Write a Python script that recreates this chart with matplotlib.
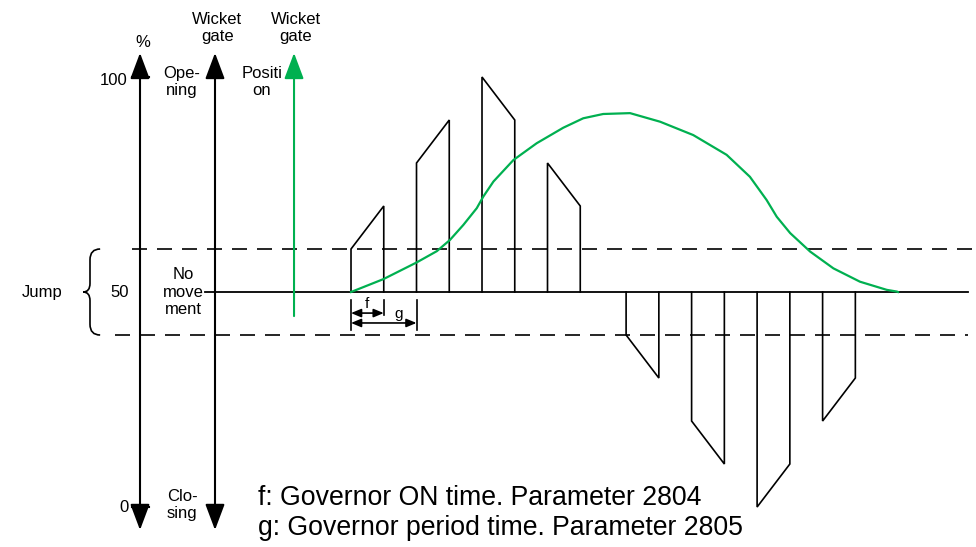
import matplotlib
matplotlib.use('Agg')
import matplotlib.pyplot as plt
from matplotlib.path import Path
from matplotlib.patches import PathPatch

plt.rcParams['font.family'] = ['Liberation Sans', 'DejaVu Sans']

# governor pulses (time in units of f, period g = 2), level at start / end of the pulse in %
pulse_start = [0, 2, 4, 6, 8.4, 10.4, 12.4, 14.4]
pulse_from = [60, 80, 100, 80, 40, 20, 0, 20]
pulse_to = [70, 90, 90, 70, 30, 10, 10, 30]
pulse_on = 1.0

# wicket gate position (green curve)
pos_t = [0, 0.99, 2.01, 2.62, 3.02, 3.43, 3.84, 4.04, 4.35, 4.96, 5.67, 6.48, 7.09, 7.7,
         8.52, 9.44, 10.45, 11.47, 12.18, 12.69, 13.0, 13.41, 14.02, 14.73, 15.54, 16.36,
         16.67, 16.7]
pos_val = [50, 53.0, 56.9, 59.5, 62.1, 65.6, 69.5, 72.2, 75.7, 80.7, 84.6, 88.2, 90.4, 91.4,
           91.6, 89.6, 86.5, 81.9, 76.8, 71.4, 67.5, 63.7, 59.4, 55.5, 52.4, 50.5,
           50.1, 50]

neutral = 50
jump_low, jump_high = 40, 60

green = '#00B050'

fig = plt.figure(figsize=(9.76, 5.47), dpi=100)
ax = fig.add_axes([0, 0, 1, 1])
ax.set_xlim(-10.718, 19.084)
ax.set_ylim(-9.30, 117.91)
ax.axis('off')

# dead band and neutral line
ax.plot([-6.69, 19.1], [jump_high, jump_high], color='black', lw=1.2, dashes=(9, 6))
ax.plot([-7.2, 18.84], [jump_low, jump_low], color='black', lw=1.2, dashes=(9, 6))
ax.plot([-4.46, 18.84], [neutral, neutral], color='black', lw=1.3)

# pulses
for s, a, b in zip(pulse_start, pulse_from, pulse_to):
    ax.plot([s, s, s + pulse_on, s + pulse_on], [neutral, a, b, neutral],
            color='black', lw=1.2, solid_joinstyle='miter')

# gate position
ax.plot(pos_t, pos_val, color=green, lw=1.6, solid_joinstyle='round')

# axes arrows
big = dict(arrowstyle='<|-|>,head_length=0.8,head_width=0.3', color='black',
           lw=1.5, shrinkA=0, shrinkB=0, mutation_scale=20)
ax.annotate('', xy=(-6.443, 105.6), xytext=(-6.443, -5.35), arrowprops=big)
ax.annotate('', xy=(-4.153, 105.6), xytext=(-4.153, -5.35), arrowprops=big)
ax.annotate('', xy=(-1.74, 105.6), xytext=(-1.74, 44.4),
            arrowprops=dict(arrowstyle='-|>,head_length=0.8,head_width=0.3', color=green,
                            lw=1.5, shrinkA=0, shrinkB=0, mutation_scale=20))
for v in (100, 0):
    ax.plot([-6.69, -6.17], [v, v], color='black', lw=1.5)

# f / g markers
ax.plot([0, 0], [41.2, 48.1], color='black', lw=1.2)
ax.plot([1, 1], [44.7, 48.1], color='black', lw=1.2)
ax.plot([2, 2], [41.2, 48.1], color='black', lw=1.2)
small = dict(arrowstyle='<|-|>,head_length=0.6,head_width=0.25', color='black',
             lw=1.2, shrinkA=0, shrinkB=0, mutation_scale=10)
ax.annotate('', xy=(0, 45.1), xytext=(1, 45.1), arrowprops=small)
ax.annotate('', xy=(0, 42.8), xytext=(2, 42.8), arrowprops=small)
ax.text(0.5, 45.6, 'f', ha='center', va='bottom', fontsize=11)
ax.text(1.45, 43.3, 'g', ha='center', va='bottom', fontsize=11)

# brace for the jump band
xr, xm, xp = -7.66, -7.97, -8.18
verts = [(xr, 60), (xm, 60), (xm, 57.5), (xm, 52), (xm, 50), (xp, 50),
         (xm, 50), (xm, 48), (xm, 42.5), (xm, 40), (xr, 40)]
codes = [Path.MOVETO, Path.CURVE3, Path.CURVE3, Path.LINETO, Path.CURVE3, Path.CURVE3,
         Path.CURVE3, Path.CURVE3, Path.LINETO, Path.CURVE3, Path.CURVE3]
ax.add_patch(PathPatch(Path(verts, codes), fill=False, lw=1.2, color='black'))

# labels
fs = 12
ax.text(-6.35, 108.1, '%', ha='center', va='center', fontsize=fs)
ax.text(-4.09, 111.4, 'Wicket\ngate', ha='center', va='center', fontsize=fs, linespacing=1.2)
ax.text(-1.68, 111.4, 'Wicket\ngate', ha='center', va='center', fontsize=fs, linespacing=1.2)
ax.text(-5.16, 98.8, 'Ope-\nning', ha='center', va='center', fontsize=fs, linespacing=1.2)
ax.text(-2.72, 98.8, 'Positi\non', ha='center', va='center', fontsize=fs, linespacing=1.2)
ax.text(-6.84, 99.3, '100', ha='right', va='center', fontsize=fs)
ax.text(-7.05, 50, '50', ha='center', va='center', fontsize=fs)
ax.text(-9.44, 50, 'Jump', ha='center', va='center', fontsize=fs)
ax.text(-5.13, 50, 'No\nmove\nment', ha='center', va='center', fontsize=fs, linespacing=1.2)
ax.text(-6.78, 0, '0', ha='right', va='center', fontsize=fs)
ax.text(-5.16, 0.5, 'Clo-\nsing', ha='center', va='center', fontsize=fs, linespacing=1.2)
ax.text(-2.84, 2.1, 'f: Governor ON time. Parameter 2804', ha='left', va='center', fontsize=19.2)
ax.text(-2.84, -4.85, 'g: Governor period time. Parameter 2805', ha='left', va='center', fontsize=19.2)

plt.savefig('out.png', dpi=100)
